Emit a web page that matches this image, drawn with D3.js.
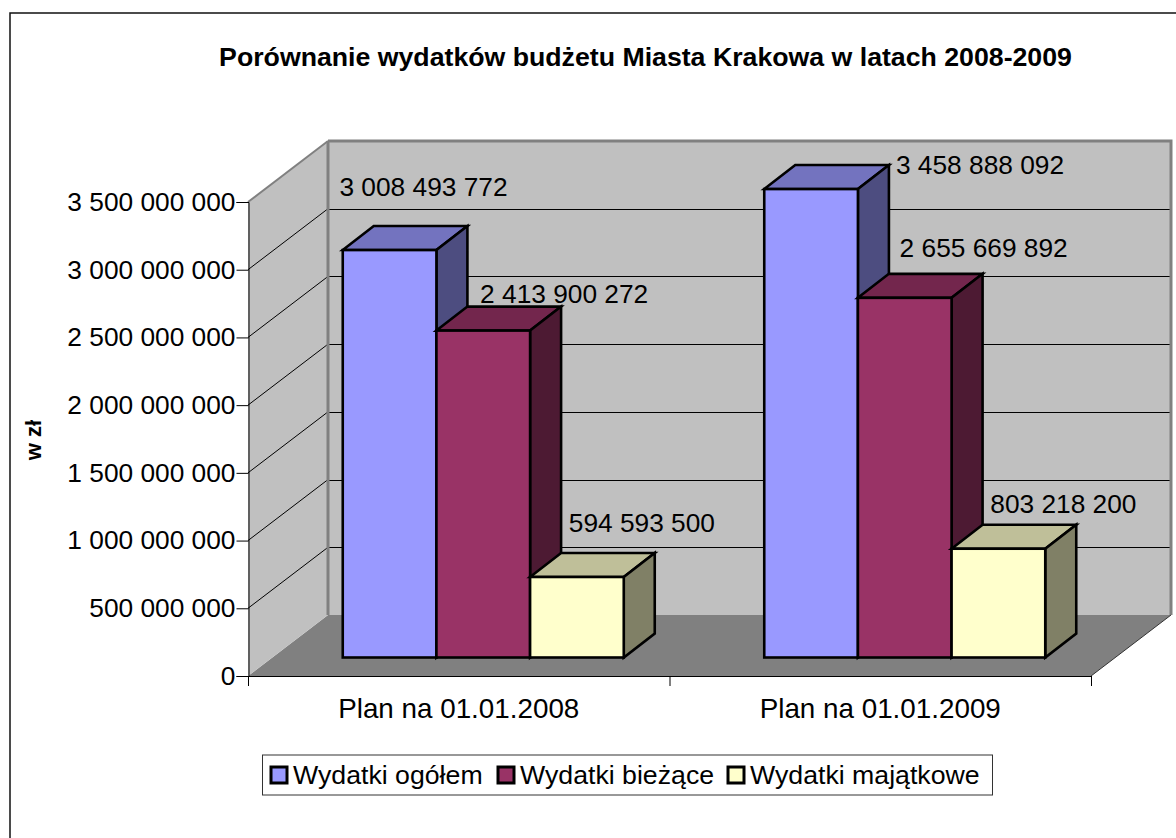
<!DOCTYPE html>
<html>
<head>
<meta charset="utf-8">
<script src="https://cdn.jsdelivr.net/npm/d3@7"></script>
<style>
  html, body { margin: 0; padding: 0; background: #fff; overflow: hidden; }
  text { font-family: "Liberation Sans", Arial, sans-serif; fill: #000; }
</style>
</head>
<body>
<div id="chart"></div>
<script>
// Data
const categories = ["Plan na 01.01.2008", "Plan na 01.01.2009"];
const seriesNames = ["Wydatki ogółem", "Wydatki bieżące", "Wydatki majątkowe"];
const ogolem = [3008493772, 3458888092];
const biezace = [2413900272, 2655669892];
const majatkowe = [594593500, 803218200];
const yTicks = [0, 500000000, 1000000000, 1500000000, 2000000000, 2500000000, 3000000000, 3500000000];

const frontColors = ["#9999ff", "#993366", "#ffffcc"];
const topColors = ["#7373bf", "#73264d", "#bfbf99"];
const sideColors = ["#4d4d80", "#4d1a33", "#808066"];

const width = 1176, height = 838;

const svg = d3.select("#chart")
    .append("svg")
    .attr("width", width)
    .attr("height", height)
    .style("display", "block");

// Outer frame, only the top and left edges fall inside the picture
svg.append("path")
    .attr("d", `M${width},13 H10 V${height}`)
    .attr("fill", "none")
    .attr("stroke", "#111")
    .attr("stroke-width", 1.5);

svg.append("text")
    .attr("x", 645.5)
    .attr("y", 66)
    .attr("text-anchor", "middle")
    .attr("font-size", 26.7)
    .attr("font-weight", "bold")
    .text("Porównanie wydatków budżetu Miasta Krakowa w latach 2008-2009");

// Scales on the front plane of the 3D box
const x = d3.scaleBand().domain(categories).range([248, 1091]).paddingInner(1 / 3).paddingOuter(1 / 6);
const xSeries = d3.scaleBand().domain(seriesNames).range([0, x.bandwidth()]);
const y = d3.scaleLinear().domain([0, 3500000000]).range([676, 202]);

// Depth of the box and of the bars
const depthX = 80, depthY = -61;
const barDepthX = 31, barDepthY = -24;
const barShiftX = (depthX - barDepthX) / 2, barShiftY = (depthY - barDepthY) / 2;

const poly = pts => pts.map(p => p.join(",")).join(" ");
const wallGrey = "#c0c0c0", edgeGrey = "#808080";

// Floor
svg.append("polygon")
    .attr("points", poly([[248, y(0)], [1091, y(0)], [1091 + depthX, y(0) + depthY], [248 + depthX, y(0) + depthY]]))
    .attr("fill", "#808080");

// Side wall
svg.append("polygon")
    .attr("points", poly([[248, y(0)], [248 + depthX, y(0) + depthY], [248 + depthX, y(3500000000) + depthY], [248, y(3500000000)]]))
    .attr("fill", wallGrey);

// Back wall
svg.append("rect")
    .attr("x", 248 + depthX)
    .attr("y", y(3500000000) + depthY)
    .attr("width", 1091 - 248)
    .attr("height", y(0) - y(3500000000))
    .attr("fill", wallGrey);

// Gridlines on the walls
const grid = svg.append("g").attr("stroke", "#000").attr("stroke-width", 1).attr("fill", "none");
grid.selectAll(".side")
    .data(yTicks.slice(1, -1))
    .join("line")
    .attr("class", "side")
    .attr("x1", 248).attr("y1", d => y(d))
    .attr("x2", 248 + depthX).attr("y2", d => y(d) + depthY);
grid.selectAll(".back")
    .data(yTicks.slice(1, -1))
    .join("line")
    .attr("class", "back")
    .attr("x1", 248 + depthX).attr("y1", d => Math.round(y(d) + depthY) + 0.5)
    .attr("x2", 1091 + depthX).attr("y2", d => Math.round(y(d) + depthY) + 0.5);

// Grey edges of the walls
svg.append("path")
    .attr("d", `M248,${y(3500000000)} L${248 + depthX},${y(3500000000) + depthY}`)
    .attr("fill", "none").attr("stroke", edgeGrey).attr("stroke-width", 2);
svg.append("path")
    .attr("d", `M${248 + depthX},${y(3500000000) + depthY} H${1091 + depthX} V${y(0) + depthY}`)
    .attr("fill", "none").attr("stroke", edgeGrey).attr("stroke-width", 3);
svg.append("path")
    .attr("d", `M${248 + depthX},${y(3500000000) + depthY} V${y(0) + depthY}`)
    .attr("fill", "none").attr("stroke", edgeGrey).attr("stroke-width", 3);
svg.append("path")
    .attr("d", `M${1091 + depthX},${y(0) + depthY} L1091,${y(0)}`)
    .attr("fill", "none").attr("stroke", "#333").attr("stroke-width", 1);

// Axes
const yAxis = d3.axisLeft(y)
    .tickValues(yTicks)
    .tickSize(12)
    .tickPadding(1)
    .tickFormat(d => d3.format(",")(d).replace(/,/g, " "));
const yG = svg.append("g").attr("transform", "translate(248.5,0)").call(yAxis);
yG.selectAll("text").attr("font-size", 26.3);

const xAxis = d3.axisBottom(d3.scalePoint().domain(d3.range(3)).range([248, 1091]))
    .tickSize(10)
    .tickFormat("");
svg.append("g").attr("transform", "translate(0,676)").call(xAxis)
    .selectAll(".domain").attr("d", "M248,0.5 H1091");

svg.selectAll(".cat")
    .data(categories)
    .join("text")
    .attr("class", "cat")
    .attr("x", d => x(d) + x.bandwidth() / 2)
    .attr("y", 718)
    .attr("text-anchor", "middle")
    .attr("font-size", 27.8)
    .text(d => d);

svg.append("text")
    .attr("transform", "translate(41,440) rotate(-90)")
    .attr("text-anchor", "middle")
    .attr("font-size", 22)
    .attr("font-weight", "bold")
    .text("w zł");

// Bars: draw from back to front, left to right
const values = [ogolem, biezace, majatkowe];
const bars = [];
categories.forEach((c, ci) => {
    seriesNames.forEach((s, si) => {
        bars.push({ cat: c, name: s, si: si, value: values[si][ci] });
    });
});

const barG = svg.selectAll(".bar")
    .data(bars)
    .join("g")
    .attr("class", "bar")
    .attr("stroke", "#000")
    .attr("stroke-width", 2.6)
    .attr("stroke-linejoin", "miter");

const x0 = d => x(d.cat) + xSeries(d.name) + barShiftX;
const x1 = d => x0(d) + xSeries.bandwidth();
const yB = () => y(0) + barShiftY;
const yT = d => y(d.value) + barShiftY;

barG.append("polygon")
    .attr("points", d => poly([[x0(d), yT(d)], [x0(d) + barDepthX, yT(d) + barDepthY], [x1(d) + barDepthX, yT(d) + barDepthY], [x1(d), yT(d)]]))
    .attr("fill", d => topColors[d.si]);
barG.append("polygon")
    .attr("points", d => poly([[x1(d), yT(d)], [x1(d) + barDepthX, yT(d) + barDepthY], [x1(d) + barDepthX, yB() + barDepthY], [x1(d), yB()]]))
    .attr("fill", d => sideColors[d.si]);
barG.append("rect")
    .attr("x", x0)
    .attr("y", yT)
    .attr("width", xSeries.bandwidth())
    .attr("height", d => yB() - yT(d))
    .attr("fill", d => frontColors[d.si]);

// Value labels were placed by hand in the original, so each one has its own nudge
// from the back right corner of the bar's top
const labelNudgeX = [-128, -81, -86, 7, -83, -86];
const labelNudgeY = [-30, -4, -21, 9, -17, -12];
svg.selectAll(".val")
    .data(bars)
    .join("text")
    .attr("class", "val")
    .attr("x", (d, i) => x1(d) + barDepthX + labelNudgeX[i])
    .attr("y", (d, i) => yT(d) + barDepthY + labelNudgeY[i])
    .attr("font-size", 26.3)
    .text(d => d3.format(",")(d.value).replace(/,/g, " "));

// Legend
const legendX = [271, 498, 728];
svg.append("rect")
    .attr("x", 262.5).attr("y", 755)
    .attr("width", 730).attr("height", 40)
    .attr("fill", "white")
    .attr("stroke", "#333");
const legend = svg.selectAll(".legend")
    .data(seriesNames)
    .join("g")
    .attr("class", "legend")
    .attr("transform", (d, i) => `translate(${legendX[i]},767)`);
legend.append("rect")
    .attr("width", 16).attr("height", 16)
    .attr("fill", (d, i) => frontColors[i])
    .attr("stroke", "#000")
    .attr("stroke-width", 3);
legend.append("text")
    .attr("x", 22)
    .attr("y", 17)
    .attr("font-size", 26.7)
    .text(d => d);
</script>
</body>
</html>
